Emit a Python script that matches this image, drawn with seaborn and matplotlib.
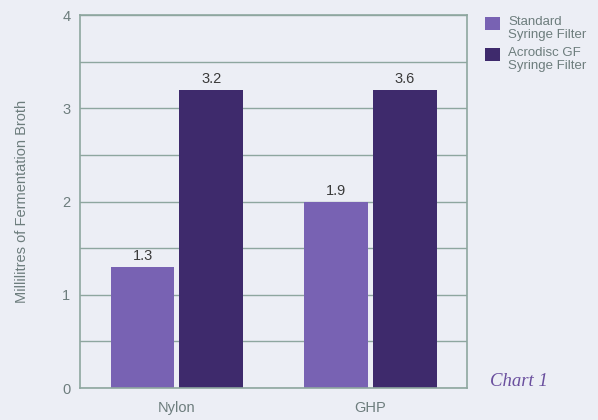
import matplotlib
matplotlib.use("Agg")
import matplotlib.pyplot as plt
import matplotlib.patches as mpatches
import pandas as pd
import seaborn as sns

# -- Data ------------------------------------------------------------------
membranes = ["Nylon", "GHP"]
filters = ["Standard\nSyringe Filter", "Acrodisc GF\nSyringe Filter"]
standard_ml = [1.3, 2.0]
acrodisc_ml = [3.2, 3.2]
standard_labels = ["1.3", "1.9"]
acrodisc_labels = ["3.2", "3.6"]

df = pd.DataFrame({
    "Membrane": membranes * 2,
    "Filter": [filters[0]] * 2 + [filters[1]] * 2,
    "ml": standard_ml + acrodisc_ml,
})

# -- Style -----------------------------------------------------------------
sns.set_theme(style="white")
plt.rcParams["font.family"] = ["Liberation Sans", "DejaVu Sans"]

bg = "#eceef5"
grid_col = "#8ea69f"
text_col = "#6d7d7d"
colours = {filters[0]: "#7862b3", filters[1]: "#3e2a6c"}

fig = plt.figure(figsize=(5.98, 4.20), dpi=100, facecolor=bg)
ax = fig.add_axes([0.134, 0.076, 0.647, 0.888])
ax.set_facecolor(bg)

sns.barplot(data=df, x="Membrane", y="ml", hue="Filter", order=membranes,
            hue_order=filters, palette=colours, width=0.71, gap=0.07,
            saturation=1, linewidth=0, legend=False, ax=ax)

# value labels (as printed on the original)
for cont, labels in zip(ax.containers, [standard_labels, acrodisc_labels]):
    for bar, lab in zip(cont, labels):
        ax.text(bar.get_x() + bar.get_width() / 2, bar.get_height() + 0.04, lab,
                ha="center", va="bottom", fontsize=10.5, color="#3a3a3a")

ax.set_xlim(-0.5, 1.5)
ax.set_ylim(0, 4)
ax.set_yticks([0, 1, 2, 3, 4])
ax.set_yticks([0.5, 1.5, 2.5, 3.5], minor=True)
ax.grid(True, axis="y", which="both", color=grid_col, linewidth=1)
ax.set_axisbelow(True)
for s in ax.spines.values():
    s.set_color(grid_col)
    s.set_linewidth(1.2)
ax.tick_params(axis="both", length=0, labelsize=10.5, labelcolor=text_col, pad=7)
ax.tick_params(axis="x", pad=9)
ax.set_xlabel("")
ax.set_ylabel("Millilitres of Fermentation Broth", fontsize=10.5, color=text_col,
              labelpad=24)

# legend on the right: square aligned with first line of each label
for i, f in enumerate(filters):
    top = 17 + i * 31
    fig.add_artist(mpatches.Rectangle((485 / 598, 1 - (top + 13) / 420),
                                      15 / 598, 13 / 420,
                                      transform=fig.transFigure,
                                      facecolor=colours[f], edgecolor="none"))
    fig.text(508 / 598, 1 - (top - 1) / 420, f, ha="left", va="top",
             fontsize=9.5, color=text_col, linespacing=1.1)

fig.text(0.82, 0.08, "Chart 1", fontsize=13.5, style="italic", color="#6a4f9e",
         family=["Liberation Serif", "DejaVu Serif"])

fig.savefig("out.png", dpi=100, facecolor=bg)
